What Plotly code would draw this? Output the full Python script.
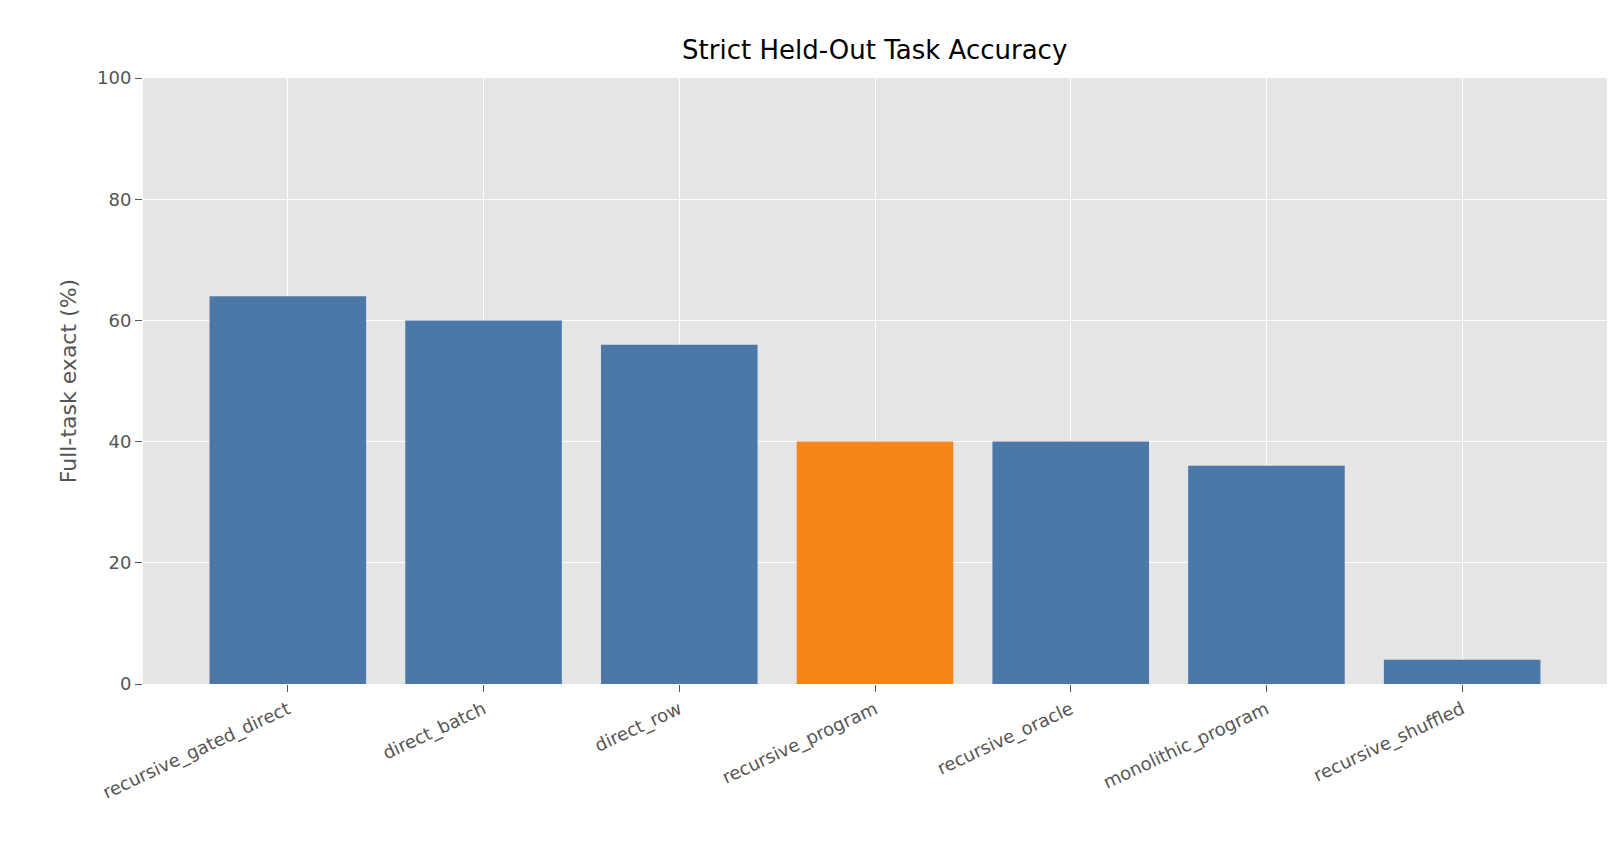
import plotly.graph_objects as go

categories = ["recursive_gated_direct", "direct_batch", "direct_row", "recursive_program",
              "recursive_oracle", "monolithic_program", "recursive_shuffled"]
values = [64, 60, 56, 40, 40, 36, 4]
highlight = "recursive_program"
colors = ["#F58518" if c == highlight else "#4C78A8" for c in categories]

fig = go.Figure(go.Bar(x=list(range(len(categories))), y=values, marker_color=colors,
                       marker_line_width=0, width=0.8))
fig.update_layout(
    width=1620, height=864, plot_bgcolor="#E5E5E5", paper_bgcolor="white",
    font=dict(family="DejaVu Sans", color="#555555", size=18),
    title=dict(text="Strict Held-Out Task Accuracy", x=0.535, xanchor="center",
               y=0.951, yanchor="middle", yref="container",
               font=dict(size=26, color="black")),
    margin=dict(l=135, r=21, t=70, b=188), showlegend=False,
)
fig.update_xaxes(tickmode="array", tickvals=list(range(len(categories))), ticktext=categories,
                 tickangle=-25, range=[-0.74, 6.74], showgrid=True, gridcolor="white",
                 gridwidth=1.3, ticks="outside", ticklen=7, tickcolor="#555555",
                 tickfont=dict(size=18, color="#555555"), zeroline=False)
fig.update_yaxes(range=[0, 100], dtick=20, showgrid=True, gridcolor="white", gridwidth=1.3,
                 ticks="outside", ticklen=7, tickcolor="#555555", zeroline=False,
                 title=dict(text="Full-task exact (%)", font=dict(size=22, color="#555555"),
                            standoff=14),
                 tickfont=dict(size=18, color="#555555"))
fig.write_html("out.html")
